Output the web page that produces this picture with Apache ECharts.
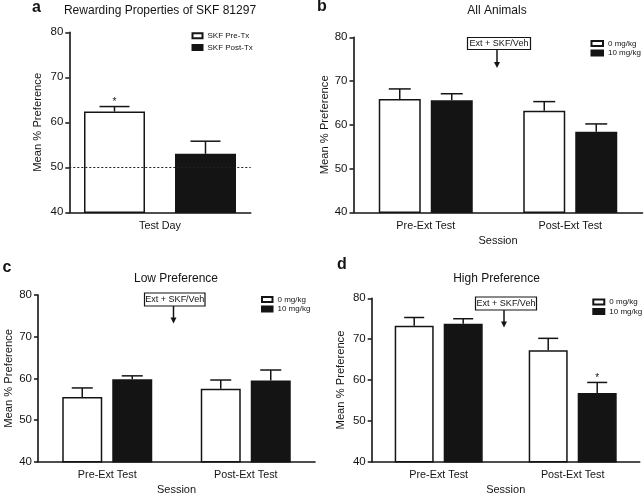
<!DOCTYPE html>
<html>
<head>
<meta charset="utf-8">
<script src="https://cdn.jsdelivr.net/npm/echarts@6/dist/echarts.min.js"></script>
<style>
html,body{margin:0;padding:0;background:#fff;}
#chart{width:644px;height:499px;}
</style>
</head>
<body>
<div id="chart"></div>
<script>
// ---------- data ----------
const yTicks = [40, 50, 60, 70, 80];
const chanceLevel = 50;

const catsTest = ['Test Day'];
const skfPreTx = [62.4];
const skfPreTxSem = [1.1];
const skfPreTxSig = [1];
const skfPostTx = [53.0];
const skfPostTxSem = [2.8];
const skfPostTxSig = [0];

const catsSession = ['Pre-Ext Test', 'Post-Ext Test'];

const allZero = [65.9, 63.2];
const allZeroSem = [2.3, 2.1];
const allTen = [65.6, 58.4];
const allTenSem = [1.5, 1.8];

const lowZero = [55.5, 57.5];
const lowZeroSem = [2.2, 2.1];
const lowTen = [59.8, 59.5];
const lowTenSem = [0.8, 2.5];

const highZero = [73.3, 67.3];
const highZeroSem = [2.0, 2.9];
const highTen = [73.8, 56.8];
const highTenSem = [1.2, 2.6];
const highTenSig = [0, 1];

const noSig = [0, 0];

const panelTitles = ['Rewarding Properties of SKF 81297', 'All Animals', 'Low Preference', 'High Preference'];
const panelLetters = ['a', 'b', 'c', 'd'];
const annotationText = 'Ext + SKF/Veh';

// ---------- layout ----------
const FONT = '"Liberation Sans", Arial, sans-serif';
const INK = '#141414';

const panels = [
  { grid: {left: 69.3, top: 32.3, width: 181.4, height: 180}, cats: catsTest, xName: '',
    series: [
      {name: 'SKF Pre-Tx', data: skfPreTx, sem: skfPreTxSem, sig: skfPreTxSig, fill: '#ffffff'},
      {name: 'SKF Post-Tx', data: skfPostTx, sem: skfPostTxSem, sig: skfPostTxSig, fill: INK}],
    barWidth: 61, gap: 30, cap: 15, nameGap: 26, dotted: true,
    legend: {left: 191.5, top: 30.3, lh: 11, gap: 0.7, w: 10},
    title: {x: 160, y: 12}, letter: {x: 37, y: 8},
    anno: null },
  { grid: {left: 353.5, top: 37.3, width: 289, height: 175}, cats: catsSession, xName: 'Session',
    series: [
      {name: '0 mg/kg', data: allZero, sem: allZeroSem, sig: noSig, fill: '#ffffff'},
      {name: '10 mg/kg', data: allTen, sem: allTenSem, sig: noSig, fill: INK}],
    barWidth: 42, gap: 10, cap: 11, nameGap: 21, dotted: false,
    legend: {left: 590.5, top: 38.8, lh: 9.5, gap: 0, w: 11.5},
    title: {x: 497, y: 12}, letter: {x: 322, y: 7},
    anno: {x0: 467.5, x1: 530.5, y0: 37.5, y1: 49.5, ax: 497, tip: 68} },
  { grid: {left: 38, top: 295, width: 277, height: 166.7}, cats: catsSession, xName: 'Session',
    series: [
      {name: '0 mg/kg', data: lowZero, sem: lowZeroSem, sig: noSig, fill: '#ffffff'},
      {name: '10 mg/kg', data: lowTen, sem: lowTenSem, sig: noSig, fill: INK}],
    barWidth: 40, gap: 10, cap: 10.5, nameGap: 24, dotted: false,
    legend: {left: 261, top: 294.7, lh: 9.5, gap: 0, w: 10.5},
    title: {x: 176, y: 280}, letter: {x: 7.5, y: 268},
    anno: {x0: 144.5, x1: 205, y0: 293, y1: 306, ax: 173.5, tip: 323.5} },
  { grid: {left: 371.7, top: 298.3, width: 268, height: 163.4}, cats: catsSession, xName: 'Session',
    series: [
      {name: '0 mg/kg', data: highZero, sem: highZeroSem, sig: noSig, fill: '#ffffff'},
      {name: '10 mg/kg', data: highTen, sem: highTenSem, sig: highTenSig, fill: INK}],
    barWidth: 39, gap: 10, cap: 10, nameGap: 25, dotted: false,
    legend: {left: 592.3, top: 297.3, lh: 9.5, gap: 0, w: 11},
    title: {x: 496.5, y: 280}, letter: {x: 342, y: 265},
    anno: {x0: 475.5, x1: 536.5, y0: 297, y1: 310, ax: 504, tip: 327.5} }
];

const grids = [], xAxes = [], yAxes = [], series = [], legends = [], titles = [], graphics = [];

panels.forEach((p, pi) => {
  grids.push(Object.assign({containLabel: false}, p.grid));
  xAxes.push({
    type: 'category', gridIndex: pi, data: p.cats,
    name: p.xName, nameLocation: 'middle', nameGap: 23,
    nameTextStyle: {fontFamily: FONT, fontSize: 11, color: INK},
    axisLine: {lineStyle: {color: INK, width: 1.6}},
    axisTick: {alignWithLabel: true, length: 4, lineStyle: {color: INK, width: 1.5}},
    axisLabel: {fontFamily: FONT, fontSize: 10.8, color: INK, margin: 8},
    splitLine: {show: false}
  });
  yAxes.push({
    type: 'value', gridIndex: pi, min: yTicks[0], max: yTicks[yTicks.length - 1],
    interval: yTicks[1] - yTicks[0],
    name: 'Mean % Preference', nameLocation: 'middle', nameGap: p.nameGap,
    nameTextStyle: {fontFamily: FONT, fontSize: 11.2, color: INK},
    axisLine: {show: true, lineStyle: {color: INK, width: 1.6}},
    axisTick: {show: true, length: 4, lineStyle: {color: INK, width: 1.5}},
    axisLabel: {fontFamily: FONT, fontSize: 11.5, color: INK, margin: 6},
    splitLine: {show: false}
  });
  const off = (p.barWidth + p.gap) / 2;
  p.series.forEach((s, si) => {
    const bar = {
      type: 'bar', name: s.name, xAxisIndex: pi, yAxisIndex: pi,
      data: s.data, barWidth: p.barWidth, barGap: (p.gap / p.barWidth * 100) + '%',
      itemStyle: {color: s.fill, borderColor: INK, borderWidth: 1.5},
      emphasis: {disabled: true}, animation: false, z: 2
    };
    if (p.dotted && si === 0) {
      bar.markLine = {
        silent: true, symbol: ['none', 'none'], label: {show: false},
        lineStyle: {type: [2, 2], color: '#222', width: 1},
        data: [{yAxis: chanceLevel}], animation: false
      };
    }
    series.push(bar);
    const sign = si === 0 ? -1 : 1;
    series.push({
      type: 'custom', xAxisIndex: pi, yAxisIndex: pi, animation: false, z: 5,
      data: s.data.map((v, i) => [i, v, s.sem[i], s.sig[i]]),
      renderItem: (params, api) => {
        const ci = api.value(0), m = api.value(1), e = api.value(2), sg = api.value(3);
        const cx = api.coord([ci, m])[0] + sign * off;
        const yb = api.coord([ci, m])[1];
        const yt = api.coord([ci, m + e])[1];
        const st = {stroke: INK, lineWidth: 1.5};
        const kids = [
          {type: 'line', shape: {x1: cx, y1: yb, x2: cx, y2: yt}, style: st},
          {type: 'line', shape: {x1: cx - p.cap, y1: yt, x2: cx + p.cap, y2: yt}, style: st}
        ];
        if (sg) kids.push({type: 'text', style: {text: '*', x: cx, y: yt + 1, align: 'center', verticalAlign: 'bottom', fontSize: 10, fontFamily: FONT, fill: INK}});
        return {type: 'group', children: kids};
      }
    });
  });
  legends.push({
    orient: 'vertical', left: p.legend.left, top: p.legend.top,
    data: p.series.map(s => s.name), icon: 'rect', itemWidth: p.legend.w, itemHeight: 5,
    itemGap: p.legend.gap, padding: 0, selectedMode: false,
    textStyle: {fontFamily: FONT, fontSize: 8, lineHeight: p.legend.lh, color: INK}
  });
  titles.push({
    text: panelTitles[pi], left: p.title.x, top: p.title.y - 7.5, textAlign: 'center', padding: 0,
    textStyle: {fontFamily: FONT, fontSize: 12, fontWeight: 'normal', color: INK}
  });
  graphics.push({type: 'text', left: p.letter.x - 5, top: p.letter.y - 8,
    style: {text: panelLetters[pi], fontFamily: FONT, fontSize: 16, fontWeight: 'bold', fill: INK}});
  if (p.anno) {
    const a = p.anno;
    graphics.push({type: 'rect', shape: {x: a.x0, y: a.y0, width: a.x1 - a.x0, height: a.y1 - a.y0},
      style: {fill: '#fff', stroke: INK, lineWidth: 1.2}, z: 10});
    graphics.push({type: 'text', x: (a.x0 + a.x1) / 2, y: (a.y0 + a.y1) / 2,
      style: {text: annotationText, fontFamily: FONT, fontSize: 9, fill: INK, align: 'center', verticalAlign: 'middle'}, z: 11});
    graphics.push({type: 'line', shape: {x1: a.ax, y1: a.y1, x2: a.ax, y2: a.tip - 4},
      style: {stroke: INK, lineWidth: 1.5}, z: 10});
    graphics.push({type: 'polygon', shape: {points: [[a.ax - 3, a.tip - 6], [a.ax + 3, a.tip - 6], [a.ax, a.tip]]},
      style: {fill: INK}, z: 10});
  }
});

const chart = echarts.init(document.getElementById('chart'), null, {renderer: 'canvas'});
chart.setOption({
  backgroundColor: '#ffffff',
  animation: false,
  title: titles,
  legend: legends,
  grid: grids,
  xAxis: xAxes,
  yAxis: yAxes,
  series: series,
  graphic: graphics
});
</script>
</body>
</html>
